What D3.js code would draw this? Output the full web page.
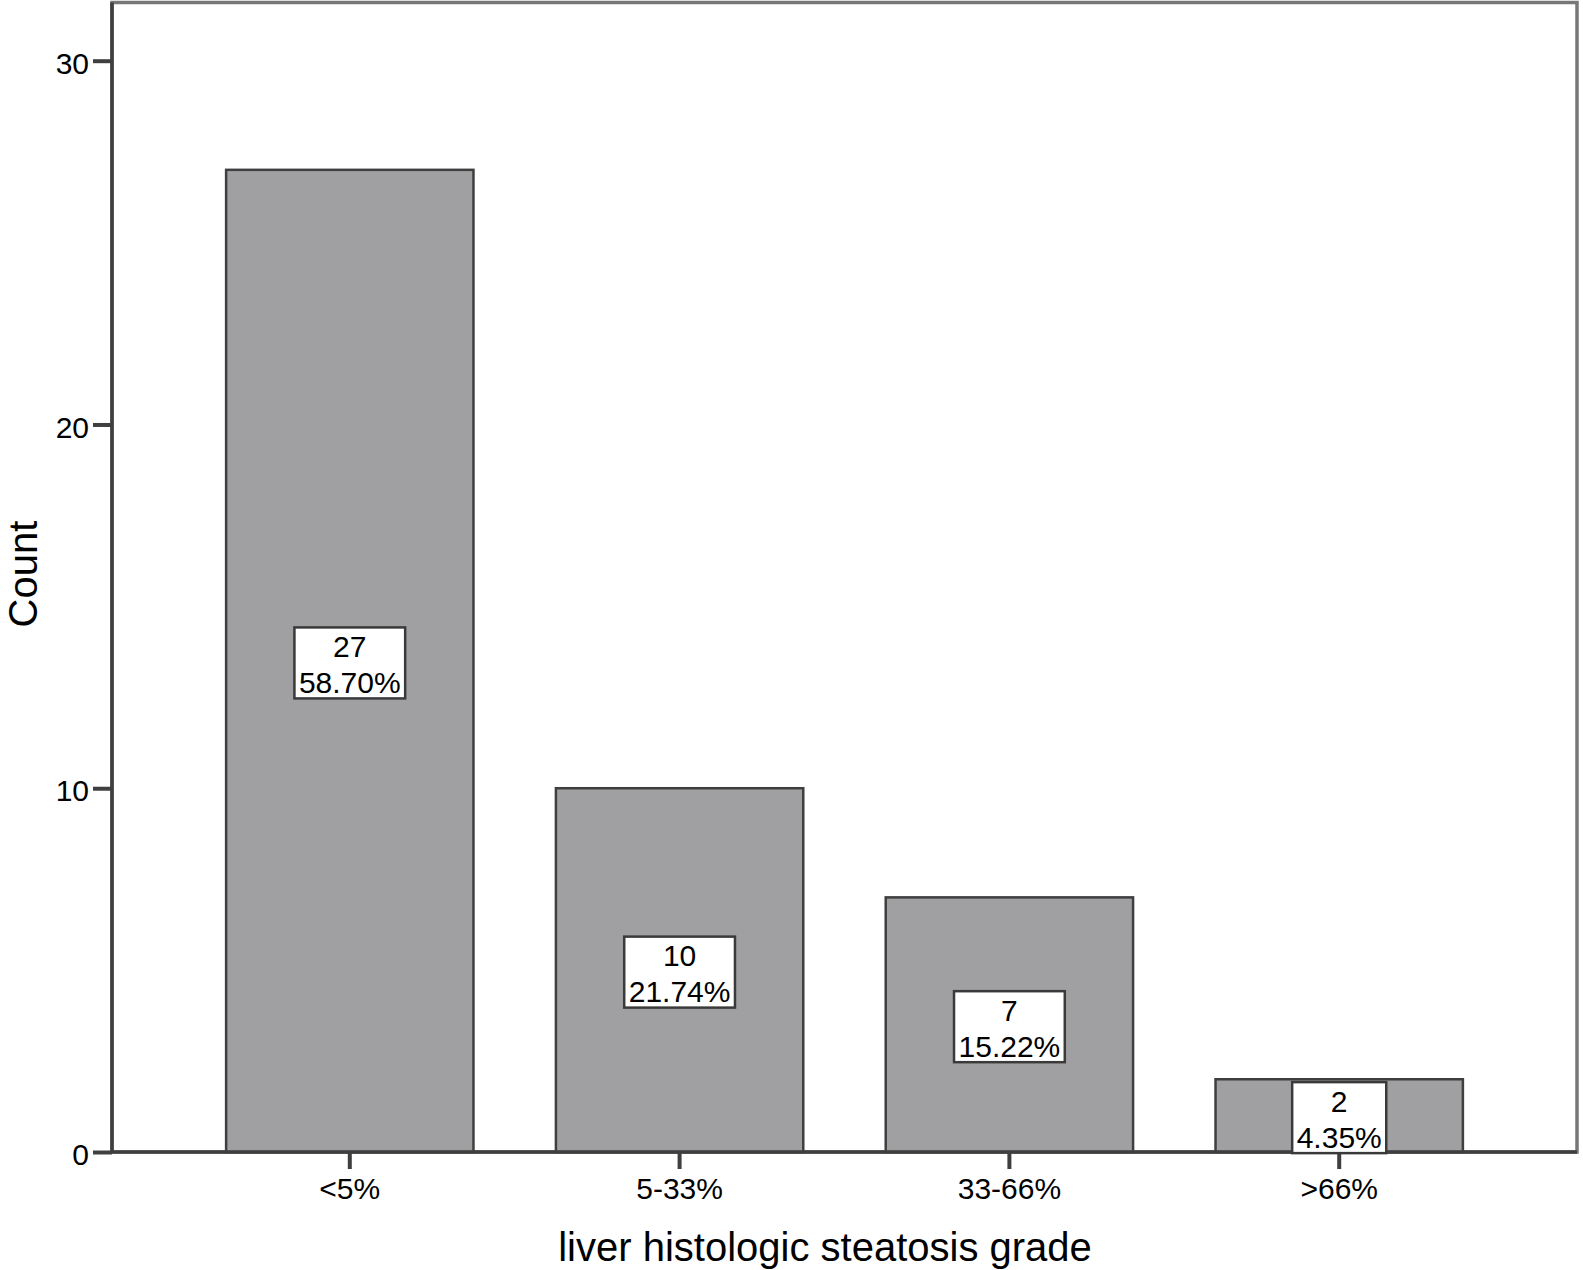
<!DOCTYPE html>
<html>
<head>
<meta charset="utf-8">
<script src="https://cdn.jsdelivr.net/npm/d3@7"></script>
<style>
  body { margin: 0; background: #fff; }
  svg { display: block; font-family: "Liberation Sans", Arial, Helvetica, sans-serif; }
</style>
</head>
<body>
<svg id="chart" width="1583" height="1270"></svg>
<script>
const categories = ["<5%", "5-33%", "33-66%", ">66%"];
const counts = [27, 10, 7, 2];
const percents = ["58.70%", "21.74%", "15.22%", "4.35%"];
const yTicks = [0, 10, 20, 30];
const xTitle = "liver histologic steatosis grade";
const yTitle = "Count";

(function () {
const svg = d3.select("#chart");
const pLeft = 112, pRight = 1577, pTop = 2.5, pBottom = 1152;

const x = d3.scaleBand().domain(categories).range([pLeft, pRight])
  .paddingInner(0.25).paddingOuter(0.346);
const y = d3.scaleLinear().domain([0, 31.6]).range([pBottom, pTop]);

// plot frame
svg.append("rect")
  .attr("x", pLeft).attr("y", pTop)
  .attr("width", pRight - pLeft).attr("height", pBottom - pTop)
  .attr("fill", "#fff").attr("stroke", "#777").attr("stroke-width", 3.5);

// bars
svg.append("g").selectAll("rect").data(categories).join("rect")
  .attr("x", d => x(d))
  .attr("y", (d, i) => y(counts[i]))
  .attr("width", x.bandwidth())
  .attr("height", (d, i) => y(0) - y(counts[i]))
  .attr("fill", "#a0a0a2")
  .attr("stroke", "#3f3f3f")
  .attr("stroke-width", 2.5);

// y axis
const yAxis = svg.append("g").attr("transform", `translate(${pLeft},0)`)
  .call(d3.axisLeft(y).tickValues(yTicks).tickSize(19).tickPadding(4));
yAxis.select(".domain").attr("stroke", "#3f3f3f").attr("stroke-width", 3.5)
  .attr("d", `M0,${pTop}V${pBottom}`);
yAxis.selectAll(".tick line").attr("stroke", "#3f3f3f").attr("stroke-width", 4);
yAxis.selectAll(".tick text").attr("font-size", 30).attr("fill", "#000")
  .attr("dy", "0.42em").style("font-family", "Liberation Sans, Arial, sans-serif");

// x axis
const xAxis = svg.append("g").attr("transform", `translate(0,${pBottom})`)
  .call(d3.axisBottom(x).tickSize(17).tickPadding(9));
xAxis.select(".domain").attr("stroke", "#3f3f3f").attr("stroke-width", 3.5)
  .attr("d", `M${pLeft},0H${pRight}`);
xAxis.selectAll(".tick line").attr("stroke", "#3f3f3f").attr("stroke-width", 4);
xAxis.selectAll(".tick text").attr("font-size", 30).attr("fill", "#000")
  .style("font-family", "Liberation Sans, Arial, sans-serif");

// value label boxes
const labels = svg.append("g").selectAll("g").data(categories).join("g")
  .attr("transform", (d, i) => `translate(${x(d) + x.bandwidth() / 2},${y(counts[i] / 2) + 2})`);
labels.each(function (d, i) {
  const g = d3.select(this);
  const rect = g.append("rect");
  const t1 = g.append("text").attr("text-anchor", "middle").attr("y", -6)
    .attr("font-size", 30).attr("fill", "#000").text(counts[i]);
  const t2 = g.append("text").attr("text-anchor", "middle").attr("y", 30)
    .attr("font-size", 30).attr("fill", "#000").text(percents[i]);
  const w = Math.max(t1.node().getComputedTextLength(), t2.node().getComputedTextLength()) + 9;
  rect.attr("x", -w / 2).attr("y", -35.5).attr("width", w).attr("height", 71)
    .attr("fill", "#fff").attr("stroke", "#3a3a3a").attr("stroke-width", 2.5);
});

// axis titles
svg.append("text").attr("x", 825).attr("y", 1261).attr("text-anchor", "middle")
  .attr("font-size", 40).attr("fill", "#000").text(xTitle);
svg.append("text").attr("transform", "translate(37,574) rotate(-90)")
  .attr("text-anchor", "middle").attr("font-size", 40).attr("fill", "#000").text(yTitle);
})();
</script>
</body>
</html>
